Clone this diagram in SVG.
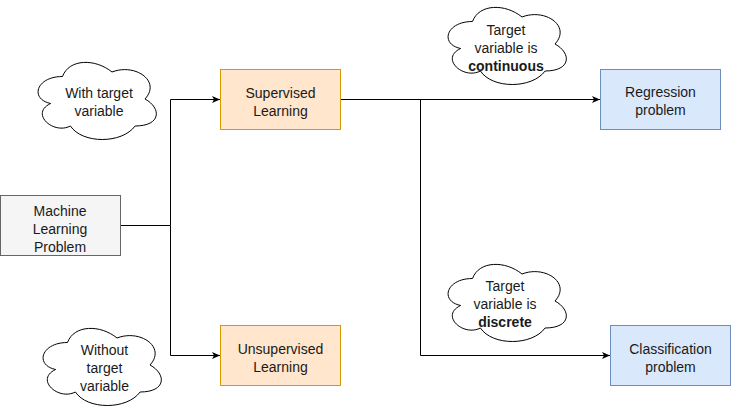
<svg xmlns="http://www.w3.org/2000/svg" xmlns:xlink="http://www.w3.org/1999/xlink" width="731" height="411" viewBox="0 0 731 411">
  <style>
    text { font-family: "Liberation Sans", Arial, Helvetica, sans-serif; font-size: 14px; fill: #1a1a1a; text-anchor: middle; }
    .b { font-weight: bold; }
    .gray { fill: #f5f5f5; stroke: #666666; stroke-width: 1; }
    .orange { fill: #ffe6cc; stroke: #d79b00; stroke-width: 1; }
    .blue { fill: #dae8fc; stroke: #6c8ebf; stroke-width: 1; }
    .cloud { fill: #ffffff; stroke: #000000; stroke-width: 1; }
    .edge { fill: none; stroke: #000000; stroke-width: 1; }
  </style>
  <defs>
    <marker id="arrow" markerUnits="userSpaceOnUse" markerWidth="10" markerHeight="10" refX="8" refY="3.5" orient="auto">
      <path d="M0,0 L8,3.5 L0,7 L2,3.5 Z" fill="#000000" stroke="none"/>
    </marker>
    <path id="cloudShape" d="M33 22.5 C6.6 22.5 0 45 21.12 49.5 C0 59.4 23.76 81 40.92 72 C52.8 90 92.4 90 105.6 72 C132 72 132 54 115.5 45 C132 27 105.6 9 82.5 18 C66 4.5 39.6 4.5 33 22.5 Z"/>
  </defs>

  <g id="connectors">
    <path class="edge" d="M120.5 225.5 H170.5 V99.5 H220" marker-end="url(#arrow)"/>
    <path class="edge" d="M170.5 225.5 V355.5 H220" marker-end="url(#arrow)"/>
    <path class="edge" d="M340.5 99.5 H600" marker-end="url(#arrow)"/>
    <path class="edge" d="M420.5 99.5 V355.5 H610" marker-end="url(#arrow)"/>
  </g>

  <g id="ml-problem">
    <rect class="gray" x="0.5" y="195.5" width="120" height="60"/>
    <text x="60" y="216">Machine</text>
    <text x="60" y="234">Learning</text>
    <text x="60" y="252">Problem</text>
  </g>

  <g id="supervised">
    <rect class="orange" x="220.5" y="69.5" width="120" height="60"/>
    <text x="280.5" y="98">Supervised</text>
    <text x="280.5" y="116">Learning</text>
  </g>

  <g id="unsupervised">
    <rect class="orange" x="220.5" y="325.5" width="120" height="60"/>
    <text x="280.5" y="354">Unsupervised</text>
    <text x="280.5" y="372">Learning</text>
  </g>

  <g id="regression">
    <rect class="blue" x="600.5" y="69.5" width="120" height="60"/>
    <text x="660.5" y="97">Regression</text>
    <text x="660.5" y="115">problem</text>
  </g>

  <g id="classification">
    <rect class="blue" x="610.5" y="325.5" width="120" height="60"/>
    <text x="670.5" y="354">Classification</text>
    <text x="670.5" y="372">problem</text>
  </g>

  <g id="cloud-with-target">
    <use xlink:href="#cloudShape" class="cloud" transform="translate(29.5,54)"/>
    <text x="99" y="98">With target</text>
    <text x="99" y="116">variable</text>
  </g>

  <g id="cloud-without-target">
    <use xlink:href="#cloudShape" class="cloud" transform="translate(34.5,320)"/>
    <text x="104.5" y="355">Without</text>
    <text x="104.5" y="373">target</text>
    <text x="104.5" y="391">variable</text>
  </g>

  <g id="cloud-continuous">
    <use xlink:href="#cloudShape" class="cloud" transform="translate(439.5,-1)"/>
    <text x="506" y="35">Target</text>
    <text x="506" y="53">variable is</text>
    <text x="506" y="71" class="b">continuous</text>
  </g>

  <g id="cloud-discrete">
    <use xlink:href="#cloudShape" class="cloud" transform="translate(439.5,256)"/>
    <text x="505" y="291">Target</text>
    <text x="505" y="309">variable is</text>
    <text x="505" y="327" class="b">discrete</text>
  </g>
</svg>
